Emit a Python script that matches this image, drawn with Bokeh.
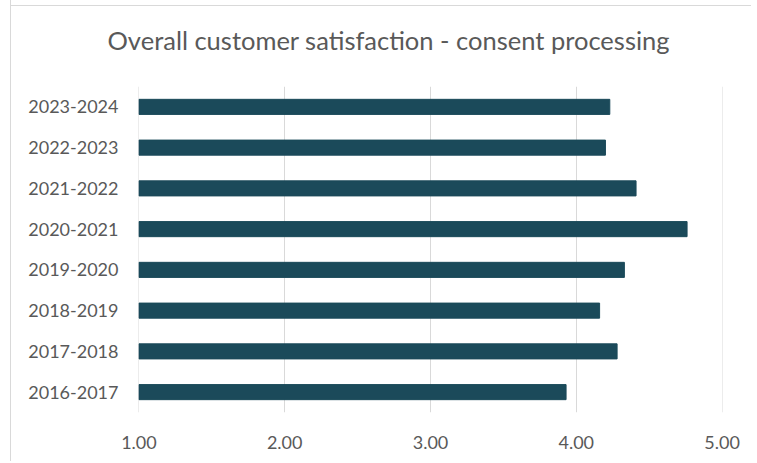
from bokeh.plotting import figure
from bokeh.models import Range1d, FactorRange, FixedTicker, NumeralTickFormatter
from bokeh.embed import file_html
from bokeh.resources import INLINE

periods = ["2016-2017", "2017-2018", "2018-2019", "2019-2020",
           "2020-2021", "2021-2022", "2022-2023", "2023-2024"]
scores = [3.93, 4.28, 4.16, 4.33, 4.76, 4.41, 4.20, 4.23]
axis_min = 1.0
axis_max = 5.0
x_ticks = [1, 2, 3, 4, 5]
title_text = "Overall customer satisfaction - consent processing"

FONT = "Lato"
TEXT = "#595959"
GRID = "#d9d9d9"
BAR = "#1b4a5a"

p = figure(width=741, height=469, output_backend="svg", toolbar_location=None,
           y_range=FactorRange(factors=periods),
           x_range=Range1d(axis_min - 0.003, axis_max + 0.003),
           min_border_left=127, min_border_right=30,
           min_border_top=93, min_border_bottom=49,
           title=title_text)

p.hbar(y=periods, left=axis_min, right=scores, height=0.37,
       fill_color=BAR, line_color=BAR)

p.outline_line_color = None
p.border_fill_color = None
p.background_fill_color = None
p.ygrid.visible = False
p.xgrid.grid_line_color = GRID
p.xgrid.grid_line_width = 1

p.xaxis.ticker = FixedTicker(ticks=x_ticks)
p.xaxis.formatter = NumeralTickFormatter(format="0.00")
for ax in (p.xaxis[0], p.yaxis[0]):
    ax.axis_line_color = None
    ax.major_tick_line_color = None
    ax.minor_tick_line_color = None
    ax.major_label_text_font = FONT
    ax.major_label_text_font_size = "18px"
    ax.major_label_text_color = TEXT
p.xaxis.major_label_standoff = 17
p.yaxis.major_label_standoff = 14

title = p.title
title.text_font = FONT
title.text_font_size = "25.5px"
title.text_font_style = "normal"
title.text_color = TEXT
title.align = "left"
title.offset = -31
title.vertical_align = "middle"
title.standoff = 62

p.styles = {
    "border-left": "1px solid #d9d9d9",
    "margin-left": "10px",
    "position": "relative",
    "top": "-8px",
    "background-image": "linear-gradient(#d9d9d9, #d9d9d9)",
    "background-size": "100% 1px",
    "background-position": "0 13px",
    "background-repeat": "no-repeat",
}

open("out.html", "w").write(file_html(p, INLINE))
